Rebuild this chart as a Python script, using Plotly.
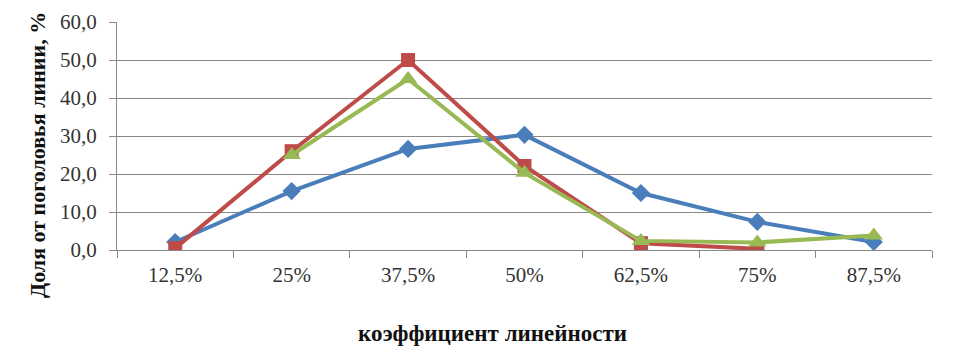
import plotly.graph_objects as go

categories = ["12,5%", "25%", "37,5%", "50%", "62,5%", "75%", "87,5%"]
series_blue = [2.1, 15.5, 26.6, 30.3, 15.0, 7.4, 2.1]
series_red = [0.5, 26.0, 50.0, 22.1, 1.8, 0.3, None]
series_green = [None, 25.0, 45.0, 20.3, 2.4, 2.0, 3.8]
y_tick_vals = [0, 10, 20, 30, 40, 50, 60]
y_tick_text = ["0,0", "10,0", "20,0", "30,0", "40,0", "50,0", "60,0"]

FONT = "Liberation Serif, Times New Roman, serif"
L, R, T, B = 109, 29, 14, 108
PW = 953 - L - R
PH = 350 - T - B

fig = go.Figure()
fig.add_trace(go.Scatter(x=categories, y=series_blue, mode="lines+markers",
                         line=dict(color="#4A7EBB", width=4),
                         marker=dict(symbol="diamond", size=14, color="#4A7EBB")))
fig.add_trace(go.Scatter(x=categories, y=series_red, mode="lines+markers",
                         line=dict(color="#BE4B48", width=4),
                         marker=dict(symbol="square", size=14, color="#BE4B48")))
fig.add_trace(go.Scatter(x=categories, y=series_green, mode="lines+markers",
                         line=dict(color="#98B954", width=4),
                         marker=dict(symbol="triangle-up", size=16, color="#98B954")))

fig.update_layout(
    width=953, height=350,
    margin=dict(l=L, r=R, t=T, b=B),
    paper_bgcolor="white", plot_bgcolor="white",
    showlegend=False,
    font=dict(family=FONT, size=21, color="#333"),
    xaxis=dict(type="category", range=[-0.5, 6.5], showgrid=False, automargin=False,
               showline=True, linecolor="#888", linewidth=1,
               ticks="outside", tickson="boundaries", ticklen=7, tickcolor="#888",
               ticklabelstandoff=6,
               tickfont=dict(family=FONT, size=21, color="#333")),
    yaxis=dict(range=[0, 60], tickvals=y_tick_vals, ticktext=y_tick_text, automargin=False,
               showgrid=True, gridcolor="#888", gridwidth=1,
               showline=True, linecolor="#888", linewidth=1,
               ticks="outside", ticklen=7, tickcolor="#888",
               ticklabelstandoff=8,
               zeroline=False,
               tickfont=dict(family=FONT, size=21, color="#333")),
    annotations=[
        dict(text="<b>Доля от поголовья линии, %</b>", textangle=-90,
             xref="paper", yref="paper", x=(30 - L) / PW, y=(PH + T - 147) / PH,
             xanchor="center", yanchor="middle", showarrow=False,
             font=dict(family=FONT, size=22, color="#111")),
        dict(text="<b>коэффициент линейности</b>",
             xref="paper", yref="paper", x=(484 - L) / PW, y=(PH + T - 325) / PH,
             xanchor="center", yanchor="middle", showarrow=False,
             font=dict(family=FONT, size=23, color="#111")),
    ],
)

fig.write_html("out.html")
